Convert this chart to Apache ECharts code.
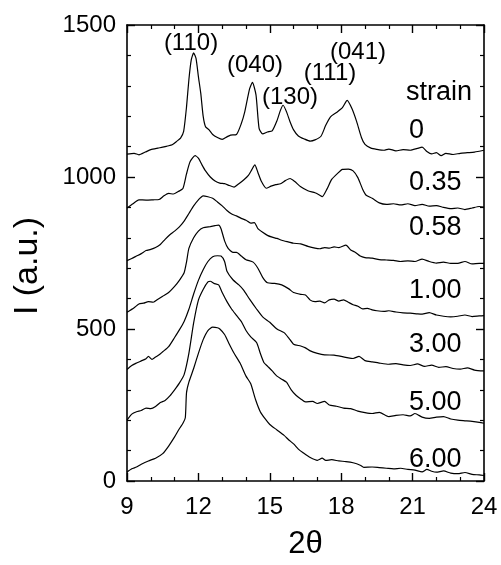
<!DOCTYPE html>
<html>
<head>
<meta charset="utf-8">
<title>XRD patterns vs strain</title>
<script src="https://cdn.jsdelivr.net/npm/echarts@6/dist/echarts.min.js"></script>
<style>
  html, body { margin: 0; padding: 0; background: #fff; }
  #chart { width: 501px; height: 565px; }
</style>
</head>
<body>
<div id="chart"></div>
<script>
// Diffraction patterns [2θ (deg), intensity (a.u., vertically offset)]
var strain0 = [[9.0,1075],[9.3,1078],[9.5,1073],[9.77,1082],[10.0,1090],[10.3,1095],[10.5,1098],[10.7,1102],[10.9,1106],[11.1,1118],[11.25,1128],[11.38,1150],[11.5,1230],[11.6,1320],[11.7,1385],[11.8,1408],[11.9,1390],[12.0,1330],[12.1,1275],[12.2,1200],[12.3,1165],[12.45,1155],[12.6,1140],[12.8,1130],[13.0,1124],[13.2,1132],[13.35,1138],[13.6,1140],[13.8,1175],[13.95,1215],[14.15,1290],[14.27,1311],[14.42,1270],[14.55,1160],[14.7,1142],[14.9,1148],[15.1,1152],[15.3,1185],[15.45,1220],[15.56,1236],[15.7,1215],[15.85,1182],[16.0,1155],[16.2,1135],[16.45,1125],[16.7,1118],[16.9,1122],[17.15,1134],[17.35,1170],[17.55,1198],[17.8,1212],[18.05,1228],[18.25,1252],[18.45,1225],[18.65,1182],[18.85,1130],[19.0,1107],[19.25,1095],[19.5,1091],[19.8,1088],[20.0,1092],[20.3,1086],[20.6,1090],[20.9,1088],[21.2,1094],[21.4,1098],[21.6,1084],[21.8,1076],[22.0,1080],[22.2,1070],[22.4,1078],[22.7,1074],[23.0,1078],[23.3,1080],[23.6,1082],[24.0,1088]];

var strain035 = [[9.0,898],[9.25,912],[9.5,925],[9.8,924],[10.1,925],[10.35,926],[10.55,938],[10.75,946],[10.95,944],[11.15,952],[11.35,962],[11.5,1010],[11.65,1050],[11.86,1070],[12.0,1062],[12.15,1040],[12.3,1020],[12.5,1000],[12.7,987],[12.9,980],[13.1,978],[13.3,972],[13.5,967],[13.7,978],[13.9,990],[14.1,1005],[14.25,1025],[14.37,1040],[14.5,1015],[14.65,985],[14.85,963],[15.05,970],[15.25,975],[15.45,978],[15.65,988],[15.85,995],[16.05,985],[16.3,968],[16.6,955],[16.9,948],[17.1,940],[17.2,935],[17.4,960],[17.6,992],[17.85,1012],[18.05,1025],[18.3,1026],[18.5,1020],[18.7,998],[18.9,960],[19.05,940],[19.3,930],[19.6,915],[19.9,910],[20.2,912],[20.5,908],[20.8,912],[21.1,906],[21.4,910],[21.7,904],[22.0,906],[22.3,900],[22.6,896],[22.9,898],[23.2,893],[23.5,898],[23.8,903],[24.0,901]];

var strain058 = [[9.0,725],[9.2,732],[9.4,740],[9.6,748],[9.8,758],[10.0,762],[10.2,768],[10.4,778],[10.6,795],[10.8,810],[11.0,822],[11.2,836],[11.4,855],[11.6,880],[11.8,905],[12.0,925],[12.2,938],[12.4,935],[12.6,930],[12.8,918],[13.0,905],[13.2,890],[13.4,878],[13.6,872],[13.8,864],[14.0,858],[14.2,848],[14.35,850],[14.5,830],[14.7,818],[14.9,808],[15.1,802],[15.3,798],[15.5,792],[15.8,786],[16.0,782],[16.3,780],[16.6,772],[16.9,766],[17.1,764],[17.3,768],[17.5,766],[17.7,770],[17.9,768],[18.2,776],[18.4,760],[18.6,752],[18.8,740],[19.0,735],[19.3,733],[19.6,728],[19.9,727],[20.2,726],[20.5,722],[20.8,724],[21.1,722],[21.4,730],[21.7,722],[22.0,717],[22.3,720],[22.6,716],[22.9,716],[23.2,722],[23.5,714],[23.8,716],[24.0,716]];

var strain100 = [[9.0,555],[9.3,570],[9.5,582],[9.7,585],[9.9,590],[10.1,588],[10.3,598],[10.5,608],[10.75,620],[11.0,640],[11.2,660],[11.4,685],[11.5,720],[11.6,765],[11.8,800],[12.0,822],[12.2,833],[12.5,837],[12.7,840],[12.85,842],[12.95,830],[13.1,790],[13.25,765],[13.45,752],[13.6,752],[13.8,740],[14.0,728],[14.3,720],[14.5,700],[14.7,670],[14.9,652],[15.2,650],[15.5,645],[15.8,632],[16.0,620],[16.3,614],[16.5,612],[16.7,595],[16.9,590],[17.1,592],[17.3,586],[17.5,596],[17.7,598],[17.9,592],[18.1,596],[18.3,588],[18.5,580],[18.7,575],[18.9,566],[19.1,568],[19.3,563],[19.5,560],[19.8,558],[20.0,560],[20.3,556],[20.6,553],[20.9,552],[21.2,550],[21.4,549],[21.7,554],[22.0,546],[22.3,542],[22.6,540],[22.9,542],[23.2,546],[23.5,541],[23.8,543],[24.0,544]];

var strain300 = [[9.0,367],[9.2,380],[9.4,388],[9.6,395],[9.8,402],[9.9,410],[10.05,400],[10.2,408],[10.35,415],[10.5,425],[10.75,442],[11.0,472],[11.2,497],[11.4,525],[11.6,565],[11.8,615],[12.0,660],[12.2,695],[12.4,722],[12.6,738],[12.8,741],[12.95,740],[13.1,722],[13.2,690],[13.45,662],[13.7,645],[13.9,628],[14.15,598],[14.45,565],[14.7,540],[15.0,522],[15.3,500],[15.6,488],[15.8,470],[16.0,450],[16.3,444],[16.5,438],[16.7,428],[17.0,420],[17.3,415],[17.7,414],[18.0,410],[18.3,405],[18.5,403],[18.75,410],[19.0,396],[19.3,392],[19.6,388],[20.0,384],[20.3,386],[20.6,382],[20.9,380],[21.2,385],[21.5,377],[21.8,381],[22.1,374],[22.4,376],[22.7,370],[23.0,368],[23.3,372],[23.6,365],[24.0,362]];

var strain500 = [[9.0,200],[9.2,220],[9.4,228],[9.6,232],[9.8,240],[10.0,238],[10.2,245],[10.4,258],[10.6,265],[10.8,280],[11.0,300],[11.2,322],[11.4,350],[11.6,420],[11.8,520],[12.0,595],[12.2,630],[12.4,655],[12.5,657],[12.65,650],[12.85,645],[13.0,620],[13.2,590],[13.4,565],[13.6,545],[13.8,525],[14.0,495],[14.2,474],[14.45,455],[14.6,420],[14.75,390],[14.9,378],[15.1,362],[15.3,345],[15.5,335],[15.7,325],[15.9,300],[16.1,282],[16.3,270],[16.5,260],[16.8,262],[17.0,255],[17.3,262],[17.5,250],[17.8,246],[18.1,240],[18.4,238],[18.7,230],[19.0,225],[19.3,222],[19.6,226],[20.0,212],[20.3,216],[20.6,218],[20.9,214],[21.1,222],[21.4,210],[21.7,206],[22.0,210],[22.3,212],[22.6,204],[22.9,200],[23.2,198],[23.5,196],[23.8,193],[24.0,190]];

var strain600 = [[9.0,29],[9.2,40],[9.4,46],[9.6,55],[9.9,66],[10.2,75],[10.5,90],[10.75,115],[11.0,145],[11.2,172],[11.35,190],[11.45,208],[11.5,290],[11.6,325],[11.8,370],[12.0,420],[12.2,465],[12.4,495],[12.6,506],[12.8,504],[12.9,500],[13.1,482],[13.3,450],[13.5,420],[13.75,388],[14.0,345],[14.2,320],[14.4,268],[14.6,228],[14.8,205],[15.0,186],[15.3,168],[15.6,150],[15.8,135],[16.0,122],[16.2,105],[16.4,93],[16.7,77],[17.0,68],[17.2,75],[17.35,68],[17.6,70],[17.9,66],[18.2,64],[18.5,60],[18.8,52],[18.95,45],[19.3,46],[19.6,44],[19.9,42],[20.2,40],[20.5,42],[20.8,38],[21.1,36],[21.4,30],[21.6,38],[21.8,32],[22.0,29],[22.3,33],[22.6,26],[22.9,24],[23.2,28],[23.5,22],[23.8,20],[24.0,18]];

var patterns = [strain0, strain035, strain058, strain100, strain300, strain500, strain600];

// Reflection labels and strain labels
var peakLabels = ['(110)', '(040)', '(130)', '(111)', '(041)'];
var strainTitle = 'strain';
var strainLabels = ['0', '0.35', '0.58', '1.00', '3.00', '5.00', '6.00'];
var xName = '2θ';
var yName = 'I (a.u.)';

var xTicks = { min: 9, max: 24, interval: 3 };
var yTicks = { min: 0, max: 1500, interval: 500 };

var FONT = 'Liberation Sans, Arial, sans-serif';
var chart = echarts.init(document.getElementById('chart'), null, { renderer: 'canvas' });

function axisBase(showLabels) {
  return {
    type: 'value',
    axisLine: { show: true, onZero: false, lineStyle: { color: '#000', width: 1.6 } },
    axisTick: { show: true, inside: true, length: 8, lineStyle: { color: '#000', width: 1.4 } },
    minorTick: { show: true, length: 4, lineStyle: { color: '#000', width: 1.2 } },
    splitLine: { show: false },
    minorSplitLine: { show: false },
    axisLabel: {
      show: showLabels, color: '#000', fontSize: 24, fontFamily: FONT,
      formatter: function (v) { return String(v); }
    }
  };
}

var xMain = Object.assign(axisBase(true), {
  min: xTicks.min, max: xTicks.max, interval: xTicks.interval, position: 'bottom',
  name: xName, nameLocation: 'middle', nameGap: 48,
  nameTextStyle: { color: '#000', fontSize: 31, fontFamily: FONT }
});
xMain.minorTick.splitNumber = 3;
xMain.axisLabel.margin = 14;

var xTop = Object.assign(axisBase(false), {
  min: xTicks.min, max: xTicks.max, interval: xTicks.interval, position: 'top'
});
xTop.minorTick.splitNumber = 3;

var yMain = Object.assign(axisBase(true), {
  min: yTicks.min, max: yTicks.max, interval: yTicks.interval, position: 'left'
});
yMain.minorTick.splitNumber = 5;
yMain.axisLabel.margin = 11;

var yRight = Object.assign(axisBase(false), {
  min: yTicks.min, max: yTicks.max, interval: yTicks.interval, position: 'right'
});
yRight.minorTick.splitNumber = 5;

var series = patterns.map(function (d, i) {
  return {
    name: strainLabels[i],
    type: 'line',
    xAxisIndex: 0,
    yAxisIndex: 0,
    data: d,
    showSymbol: false,
    smooth: 0.2,
    lineStyle: { color: '#000', width: 1.2 },
    silent: true,
    animation: false
  };
});

// label anchor positions (pixel) for annotations
var peakPos = [[191, 43], [255, 65], [290, 97], [330, 73], [358, 52]];
var strainY = [131, 183, 228, 291, 345, 403, 460];

var graphics = [];
// vertical axis title, reading bottom to top
graphics.push({ type: 'text', x: 28, y: 266, rotation: Math.PI / 2,
  style: { text: yName, fill: '#000', fontSize: 34, fontFamily: FONT, align: 'center', verticalAlign: 'middle' } });
peakLabels.forEach(function (t, i) {
  graphics.push({ type: 'text', x: peakPos[i][0], y: peakPos[i][1],
    style: { text: t, fill: '#000', fontSize: 24, fontFamily: FONT, align: 'center', verticalAlign: 'middle' } });
});
graphics.push({ type: 'text', x: 406, y: 93,
  style: { text: strainTitle, fill: '#000', fontSize: 27, fontFamily: FONT, align: 'left', verticalAlign: 'middle' } });
strainLabels.forEach(function (t, i) {
  graphics.push({ type: 'text', x: 409, y: strainY[i],
    style: { text: t, fill: '#000', fontSize: 27, fontFamily: FONT, align: 'left', verticalAlign: 'middle' } });
});

chart.setOption({
  animation: false,
  backgroundColor: '#fff',
  grid: { left: 127, right: 17, top: 25, bottom: 74, containLabel: false },
  xAxis: [xMain, xTop],
  yAxis: [yMain, yRight],
  series: series,
  graphic: graphics
});
</script>
</body>
</html>
